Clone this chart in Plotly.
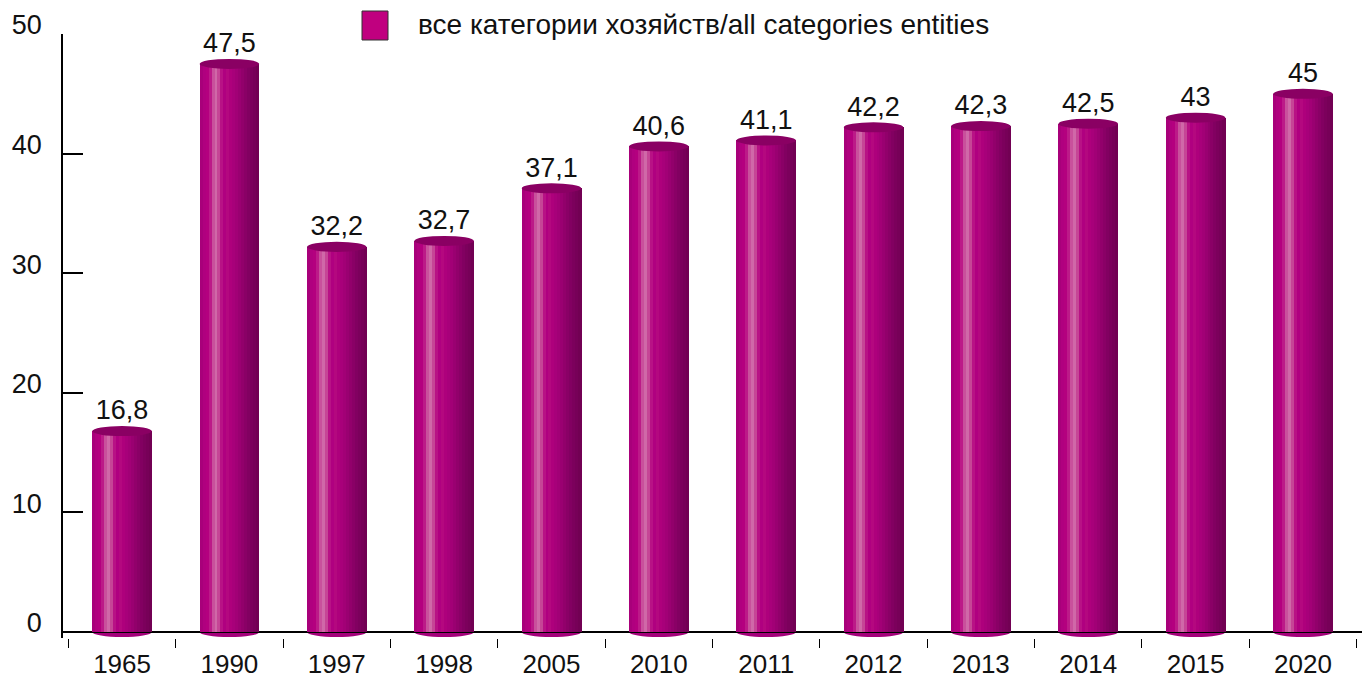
import plotly.graph_objects as go

years = ["1965", "1990", "1997", "1998", "2005", "2010", "2011", "2012", "2013", "2014", "2015", "2020"]
values = [16.8, 47.5, 32.2, 32.7, 37.1, 40.6, 41.1, 42.2, 42.3, 42.5, 43, 45]
labels = [f"{v:g}".replace(".", ",") for v in values]
legend_name = "все категории хозяйств/all categories entities"

# cylinder shading: vertical stripes from left to right
stripe_colors = ["#a8007a", "#b0007f", "#b4007f", "#bc1a88", "#c9509c", "#d068a8",
                 "#c64596", "#b81285", "#b00080", "#b4087f", "#ae007c", "#a8007a",
                 "#a20076", "#9a0071", "#92006b", "#8a0066", "#820061", "#7c005c",
                 "#770058", "#720053"]
BAR_W = 0.555
ELL_H = 0.42
FONT = "Liberation Sans, Arial, sans-serif"

fig = go.Figure()
n = len(stripe_colors)
dw = BAR_W / n
for k, c in enumerate(stripe_colors):
    fig.add_trace(go.Bar(
        x=years, y=values, base=0,
        width=[dw * 1.08] * len(years),
        offset=-BAR_W / 2 + k * dw,
        marker=dict(color=c, line=dict(width=0)),
        showlegend=False, hoverinfo="skip",
    ))

# value labels
fig.add_trace(go.Scatter(
    x=years, y=[v + ELL_H for v in values], mode="text", text=labels,
    textposition="top center",
    textfont=dict(family=FONT, size=27, color="#111111"),
    showlegend=False, hoverinfo="skip", cliponaxis=False,
))

shapes = []
for i, v in enumerate(values):
    # top ellipse
    shapes.append(dict(type="circle", xref="x", yref="y",
                       x0=i - BAR_W / 2, x1=i + BAR_W / 2,
                       y0=v - ELL_H, y1=v + ELL_H,
                       fillcolor="#8a0063", line=dict(width=0), layer="above"))
    # bottom ellipse
    shapes.append(dict(type="circle", xref="x", yref="y",
                       x0=i - BAR_W / 2, x1=i + BAR_W / 2,
                       y0=-ELL_H, y1=ELL_H,
                       fillcolor="#a4007a", line=dict(width=0), layer="below"))

# legend key
shapes.append(dict(type="rect", xref="paper", yref="paper",
                   x0=(362 - 63) / 1299, x1=(388 - 63) / 1299,
                   y0=1.0 + (34 - 40) / 604, y1=1.0 + (34 - 11) / 604,
                   fillcolor="#c0007f", line=dict(color="#333333", width=1)))

fig.update_layout(
    width=1368, height=679,
    margin=dict(l=63, r=6, t=34, b=41),
    paper_bgcolor="white", plot_bgcolor="white",
    barmode="overlay", bargap=0,
    shapes=shapes,
    font=dict(family=FONT, size=27, color="#111111"),
    annotations=[dict(text=legend_name, xref="paper", yref="paper",
                      x=(416 - 63) / 1299, y=1.0 + (34 - 25) / 604,
                      xanchor="left", yanchor="middle", showarrow=False,
                      font=dict(family=FONT, size=28, color="#111111"))],
)
fig.update_xaxes(
    type="category", categoryorder="array", categoryarray=years,
    range=[-0.55, len(years) - 0.45], automargin=False,
    showline=False, showgrid=False, zeroline=False,
    ticks="outside", tickson="boundaries", ticklen=9, tickcolor="black", tickwidth=1.3,
    tickfont=dict(family=FONT, size=26, color="#111111"),
    ticklabelstandoff=8,
)
fig.update_yaxes(
    range=[-0.5, 50], tickvals=[0, 10, 20, 30, 40, 50], automargin=False,
    showline=True, linecolor="black", linewidth=1.5,
    showgrid=False, zeroline=True, zerolinecolor="black", zerolinewidth=1.5,
    ticks="inside", ticklen=20, tickcolor="black", tickwidth=1.5,
    tickfont=dict(family=FONT, size=27, color="#111111"),
    ticklabelstandoff=14, ticklabelshift=-9,
)
fig.write_html("out.html", config={"displayModeBar": False},
               post_script="document.body.style.margin='0';document.body.style.overflow='hidden';")
